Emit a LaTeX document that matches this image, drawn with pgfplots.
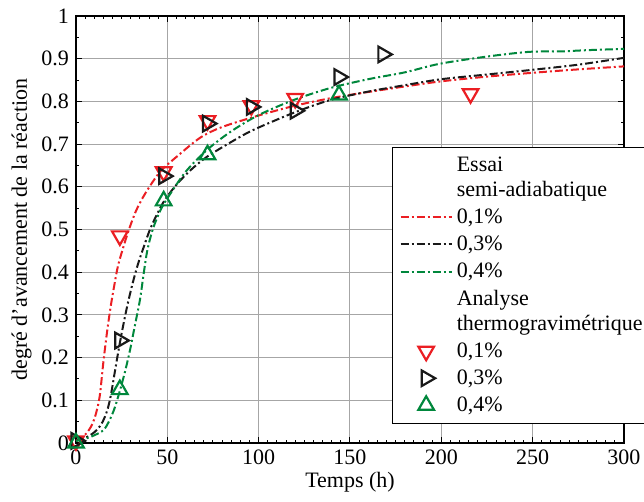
\documentclass[border=0pt]{standalone}
\usepackage{fontspec}
\setmainfont{Liberation Serif}
\usepackage{pgfplots}
\pgfplotsset{compat=1.18}
\definecolor{cred}{RGB}{235,30,35}
\definecolor{cgreen}{RGB}{0,135,60}
\definecolor{cblack}{RGB}{25,25,25}
\newcommand{\chartfont}{\rmfamily\fontsize{11}{12.5}\selectfont}
\begin{document}
\begin{tikzpicture}
\useasboundingbox (-38pt,-29.5pt) rectangle (284pt,221.5pt);
\begin{axis}[
  scale only axis, width=274pt, height=213.5pt,
  xmin=0, xmax=300, ymin=0, ymax=1,
  clip=false,
  axis line style={line width=0.8pt, black},
  xtick={0,50,100,150,200,250,300},
  ytick={0,0.1,0.2,0.3,0.4,0.5,0.6,0.7,0.8,0.9,1},
  yticklabels={0,0.1,0.2,0.3,0.4,0.5,0.6,0.7,0.8,0.9,1},
  minor x tick num=9, minor y tick num=1,
  tick align=inside,
  major tick length=3pt, minor tick length=1.5pt,
  tick style={black, line width=0.5pt},
  grid=major,
  major grid style={gray!70, line width=0.5pt},
  /pgf/number format/assume math mode=true,
  tick label style={font=\chartfont},
  label style={font=\chartfont},
  xlabel={Temps (h)},
  ylabel={degré d'avancement de la réaction},
  xlabel style={yshift=3pt},
  ylabel style={yshift=-2pt},
  legend style={at={(rel axis cs:0.5766,0.693)}, anchor=north west,
    draw=black, line width=0.6pt, fill=white, font=\chartfont,
    inner xsep=3.5pt, inner ysep=2.5pt,
    cells={anchor=west, align=left},
    nodes={inner sep=2pt},
    /tikz/row sep=0.7pt},
  legend cell align=left,
  legend image code/.code={\draw[#1] (0cm,0cm) -- (0.9cm,0cm);},
  dd/.style={line width=1pt, dash pattern=on 4pt off 1.5pt on 1pt off 1.5pt},
  mk/.style={only marks, mark size=4.5pt,
    legend image code/.code={\draw[##1] plot coordinates {(0.45cm,0cm)};}},
]
\addlegendimage{empty legend}
\addlegendentry{Essai\\semi-adiabatique}

\addplot[dd, cred, smooth] coordinates {
(0,0.005)(4,0.015)(7,0.03)(9,0.045)(11,0.07)(13,0.11)(15,0.19)(17,0.26)(19,0.32)(21,0.37)(23,0.415)(26,0.46)(29,0.5)(33,0.545)(38,0.585)(46,0.635)(55,0.67)(68,0.715)(80,0.74)(100,0.767)(120,0.79)(140,0.808)(160,0.822)(180,0.835)(200,0.847)(225,0.858)(250,0.867)(275,0.875)(300,0.882)};
\addlegendentry{0,1\%}

\addplot[dd, cblack, smooth] coordinates {
(0,0.005)(5,0.012)(10,0.025)(14,0.045)(17,0.075)(19,0.11)(21,0.16)(23,0.21)(25,0.257)(28,0.32)(31,0.374)(34,0.42)(37,0.458)(41,0.505)(47.6,0.562)(55,0.605)(63,0.64)(71.6,0.67)(85,0.705)(97,0.733)(119,0.773)(139,0.803)(160,0.823)(180,0.838)(200,0.852)(225,0.863)(250,0.874)(275,0.886)(300,0.902)};
\addlegendentry{0,3\%}

\addplot[dd, cgreen, smooth] coordinates {
(0,0.005)(5,0.01)(10,0.018)(15,0.03)(18,0.05)(21,0.08)(24,0.122)(27,0.17)(29.6,0.218)(32,0.27)(35,0.335)(37,0.395)(39,0.45)(42,0.5)(46,0.543)(50,0.573)(60,0.635)(71.6,0.686)(85,0.73)(100,0.768)(119,0.803)(139,0.831)(160,0.852)(180,0.868)(199,0.888)(225,0.905)(248,0.916)(265,0.917)(280,0.92)(300,0.923)};
\addlegendentry{0,4\%}

\addlegendimage{empty legend}
\addlegendentry{Analyse\\thermogravimétrique}

\addplot[mk, cred, mark=triangle, mark options={solid, line width=1.1pt, fill=none, rotate=180}] coordinates {
(0,0.005)(24,0.485)(48,0.635)(72,0.755)(96,0.79)(120,0.807)(216,0.818)};
\addlegendentry{0,1\%}

\addplot[mk, cblack, mark=triangle, mark options={solid, line width=1.1pt, fill=none, rotate=-90}] coordinates {
(0,0.005)(24,0.24)(48,0.625)(72,0.748)(96,0.787)(120,0.778)(144,0.857)(168,0.91)};
\addlegendentry{0,3\%}

\addplot[mk, cgreen, mark=triangle, mark options={solid, line width=1.1pt, fill=none}] coordinates {
(0,0.0)(24,0.125)(48,0.567)(72,0.675)(144,0.815)};
\addlegendentry{0,4\%}
\end{axis}
\end{tikzpicture}
\end{document}
